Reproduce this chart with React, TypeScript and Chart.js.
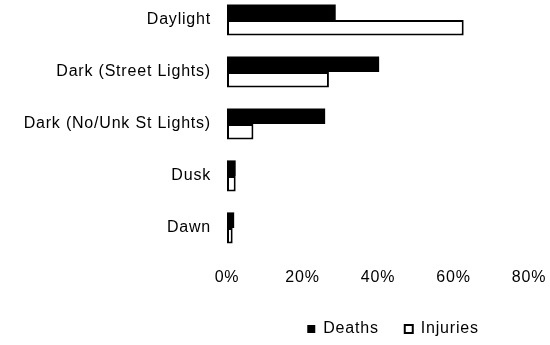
import React, { useEffect, useRef } from "react";
import { Chart, registerables } from "chart.js";

Chart.register(...registerables);

const categories = [
  "Daylight",
  "Dark (Street Lights)",
  "Dark (No/Unk St Lights)",
  "Dusk",
  "Dawn",
];
const deaths = [28.8, 40.3, 26.0, 2.3, 1.9];
const injuries = [62.7, 27.0, 7.0, 2.3, 1.5];
const xTicks = [0, 20, 40, 60, 80];

const FONT = "'Liberation Sans', Arial, sans-serif";
const SPACING = "0.8px";

const spacingPlugin = {
  id: "letterSpacing",
  beforeInit(chart: any) {
    chart.ctx.letterSpacing = SPACING;
  },
  beforeUpdate(chart: any) {
    chart.ctx.letterSpacing = SPACING;
  },
  beforeDraw(chart: any) {
    chart.ctx.letterSpacing = SPACING;
  },
};

const legendShift = {
  id: "legendShift",
  afterLayout(chart: any) {
    const lg = chart.legend;
    if (lg) {
      lg.left += 15;
      lg.right += 15;
    }
  },
};

export default function App() {
  const ref = useRef<HTMLCanvasElement | null>(null);
  useEffect(() => {
    if (!ref.current) return;
    const chart = new Chart(ref.current, {
      type: "bar",
      data: {
        labels: categories,
        datasets: [
          {
            label: "Deaths",
            data: deaths,
            backgroundColor: "#000000",
            borderColor: "#000000",
            borderWidth: 0,
            categoryPercentage: 0.6,
            barPercentage: 1,
            clip: false,
          },
          {
            label: "Injuries",
            data: injuries,
            backgroundColor: "#ffffff",
            borderColor: "#000000",
            borderWidth: 2,
            borderSkipped: false,
            categoryPercentage: 0.6,
            barPercentage: 1,
            clip: false,
          },
        ],
      },
      options: {
        indexAxis: "y",
        responsive: false,
        animation: false,
        devicePixelRatio: 1,
        layout: { padding: { top: 20, right: 21, bottom: -2, left: 0 } },
        scales: {
          x: {
            min: 0,
            max: 80,
            afterBuildTicks(scale: any) {
              scale.ticks = xTicks.map((v) => ({ value: v }));
            },
            afterFit(scale: any) {
              scale.height = 67;
            },
            grid: { display: false, drawTicks: false },
            border: { display: false },
            ticks: {
              padding: 0,
              color: "#000",
              font: { family: FONT, size: 16, lineHeight: 6.25 },
              callback: (v: any) => v + "%",
              maxRotation: 0,
            },
          },
          y: {
            offset: false,
            grid: { display: false, drawTicks: false, offset: false },
            border: { display: false },
            afterFit(scale: any) {
              scale.width = 227;
              scale.paddingTop = 0;
              scale.paddingBottom = 0;
            },
            ticks: {
              padding: 16,
              color: "#000",
              font: { family: FONT, size: 16 },
              autoSkip: false,
            },
          },
        },
        plugins: {
          legend: {
            position: "bottom",
            fullSize: false,
            labels: {
              boxWidth: 8,
              boxHeight: 8,
              padding: 26,
              color: "#000",
              font: { family: FONT, size: 16 },
            },
          },
          tooltip: { enabled: false },
        },
      },
      plugins: [spacingPlugin, legendShift],
    } as any);
    return () => chart.destroy();
  }, []);
  return (
    <div style={{ position: "fixed", left: 0, top: 0, width: 550, height: 345, background: "#fff" }}>
      <canvas ref={ref} width={550} height={345} />
    </div>
  );
}
